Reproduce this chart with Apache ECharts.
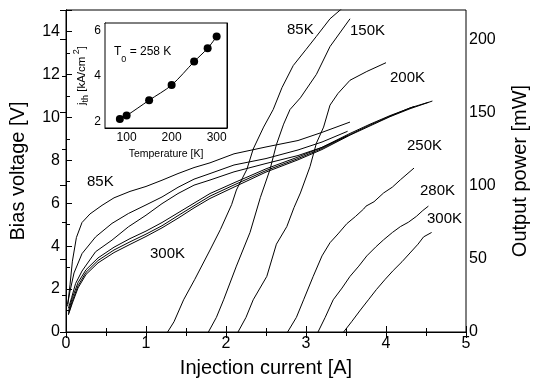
<!DOCTYPE html>
<html>
<head>
<meta charset="utf-8">
<script src="https://cdn.jsdelivr.net/npm/echarts@6/dist/echarts.min.js"></script>
<style>
  body { margin: 0; background: #fff; }
  #chart { width: 535px; height: 385px; }
</style>
</head>
<body>
<div id="chart"></div>
<script>
// Bias voltage vs injection current  [A, V]
const iv85 = [[0.02,1.2],[0.05,2.2],[0.08,3.3],[0.13,4.4],[0.2,5.1],[0.3,5.5],[0.45,5.9],[0.6,6.25],[0.8,6.55],[1.0,6.78],[1.2,7.07],[1.4,7.38],[1.6,7.66],[1.8,7.88],[2.1,8.3],[2.5,8.62],[2.9,8.92],[3.2,9.3],[3.55,9.78]]
const iv150 = [[0.02,1.3],[0.05,1.9],[0.1,2.75],[0.2,3.65],[0.37,4.43],[0.575,5.06],[0.78,5.52],[1.0,5.92],[1.2,6.29],[1.4,6.74],[1.6,7.12],[1.8,7.38],[2.1,7.78],[2.5,8.08],[2.9,8.48],[3.2,8.85],[3.52,9.35]]
const iv200 = [[0.03,1.1],[0.07,1.6],[0.12,2.26],[0.2,2.84],[0.37,3.74],[0.575,4.28],[0.78,4.9],[1.0,5.44],[1.2,5.98],[1.4,6.45],[1.6,6.84],[1.8,7.08],[2.1,7.46],[2.5,7.85],[2.9,8.22],[3.2,8.6],[3.52,9.15]]
const iv250 = [[0.03,0.95],[0.08,1.6],[0.15,2.3],[0.25,2.9],[0.4,3.45],[0.6,3.95],[0.8,4.35],[1.0,4.7],[1.2,5.1],[1.4,5.55],[1.6,6.0],[1.8,6.45],[2.1,6.95],[2.5,7.6],[2.9,8.15],[3.2,8.6],[3.55,9.25],[3.8,9.68],[4.05,10.08],[4.35,10.5]]
const iv280 = [[0.03,0.85],[0.08,1.45],[0.15,2.15],[0.25,2.78],[0.4,3.33],[0.6,3.82],[0.8,4.2],[1.0,4.56],[1.2,4.95],[1.4,5.42],[1.6,5.88],[1.8,6.33],[2.1,6.85],[2.5,7.52],[2.9,8.08],[3.2,8.55],[3.55,9.2],[3.8,9.64],[4.05,10.05],[4.3,10.44],[4.53,10.7]]
const iv300 = [[0.03,0.8],[0.08,1.35],[0.15,2.05],[0.25,2.68],[0.4,3.22],[0.6,3.7],[0.8,4.08],[1.0,4.45],[1.2,4.85],[1.4,5.3],[1.6,5.78],[1.8,6.22],[2.1,6.75],[2.5,7.45],[2.9,8.02],[3.2,8.5],[3.55,9.17],[3.8,9.6],[4.05,10.03],[4.3,10.4],[4.58,10.76]]

// Output power vs injection current  [A, mW]
const li85 = [[1.27,0],[1.35,7],[1.47,22],[1.61,36],[1.8,56],[1.93,70],[2.07,87],[2.13,97],[2.26,111],[2.34,125],[2.47,140],[2.59,152],[2.7,167],[2.84,182],[3.0,193],[3.13,202],[3.3,214],[3.47,222]]
const li150 = [[1.78,0],[1.88,10],[1.97,22],[2.13,45],[2.3,68],[2.43,92],[2.55,111],[2.63,128],[2.72,142],[2.8,152],[2.93,160],[3.13,176],[3.3,195],[3.55,214]]
const li200 = [[2.15,0],[2.25,10],[2.34,22],[2.51,38],[2.63,60],[2.76,72],[2.85,85],[2.93,95],[3.05,113],[3.13,129],[3.22,140],[3.3,155],[3.4,163],[3.55,172],[3.76,178],[4.0,184]]
const li250 = [[2.77,0],[2.88,10],[2.97,22],[3.09,38],[3.2,52],[3.3,61],[3.4,67],[3.51,74],[3.62,79],[3.72,84],[3.75,86],[3.85,89],[3.97,95],[4.08,99],[4.18,104],[4.35,112]]
const li280 = [[3.15,0],[3.24,10],[3.34,22],[3.45,30],[3.55,38],[3.66,45],[3.76,52],[3.87,58],[3.97,63],[4.08,68],[4.18,72],[4.28,75],[4.38,79],[4.46,83],[4.53,86]]
const li300 = [[3.47,0],[3.57,7],[3.68,15],[3.78,22],[3.88,29],[3.99,36],[4.09,42],[4.2,48],[4.3,54],[4.4,60],[4.47,65],[4.57,68]]

// inset: threshold current density vs temperature
const insetTemps = [85, 100, 150, 200, 250, 280, 300]
const insetJth = [2.1, 2.25, 2.93, 3.6, 4.64, 5.23, 5.75]

const chart = echarts.init(document.getElementById('chart'))

const black = '#000'
const font = 'Liberation Sans, Arial, sans-serif'

const curve = (data, yIdx) => ({
  type: 'line',
  data: data,
  xAxisIndex: 0,
  yAxisIndex: yIdx,
  showSymbol: false,
  symbol: 'none',
  lineStyle: { color: black, width: 1 },
  silent: true,
  animation: false
})

const tickIn = { show: true, inside: true, length: 6, lineStyle: { color: black } }
const minorIn = { show: true, splitNumber: 2, length: 4, lineStyle: { color: black } }
const lineBlack = { show: true, lineStyle: { color: black, width: 1 } }

const label = (text, left, top) => ({
  type: 'text', left: left, top: top,
  style: { text: text, font: '15px ' + font, fill: black }
})

const option = {
  animation: false,
  backgroundColor: '#fff',
  grid: [
    { left: 66, right: 69, top: 10, bottom: 53, show: true, borderColor: black, borderWidth: 1, outerBoundsMode: 'none', containLabel: false },
    { left: 105, right: 308, top: 23, bottom: 257, show: true, borderColor: black, borderWidth: 1, backgroundColor: '#fff', z: 5, outerBoundsMode: 'none', containLabel: false }
  ],
  xAxis: [
    {
      type: 'value', gridIndex: 0, min: 0, max: 5, interval: 1,
      name: 'Injection current [A]', nameLocation: 'middle', nameGap: 26,
      nameTextStyle: { fontSize: 20, color: black, fontFamily: font },
      axisLine: lineBlack, axisTick: tickIn, minorTick: minorIn, splitLine: { show: false },
      axisLabel: { fontSize: 16, color: black, fontFamily: font, margin: 4 }
    },
    {
      type: 'value', gridIndex: 0, position: 'top', min: 0, max: 5, interval: 1,
      axisLine: lineBlack, axisTick: tickIn, minorTick: minorIn, splitLine: { show: false },
      axisLabel: { show: false }
    },
    {
      type: 'value', gridIndex: 1, min: 52, max: 323,
      name: 'Temperature [K]', nameLocation: 'middle', nameGap: 21,
      nameTextStyle: { fontSize: 10.5, color: black, fontFamily: font },
      axisLine: lineBlack,
      axisTick: { show: true, inside: true, length: 3, lineStyle: { color: black }, customValues: [100, 150, 200, 250, 300] },
      splitLine: { show: false },
      axisLabel: { fontSize: 12, color: black, fontFamily: font, margin: 4, customValues: [100, 200, 300] }
    },
    {
      type: 'value', gridIndex: 1, position: 'top', min: 52, max: 323,
      axisLine: lineBlack,
      axisTick: { show: true, inside: true, length: 3, lineStyle: { color: black }, customValues: [100, 150, 200, 250, 300] },
      splitLine: { show: false }, axisLabel: { show: false }
    }
  ],
  yAxis: [
    {
      type: 'value', gridIndex: 0, min: 0, max: 15, interval: 2,
      name: 'Bias voltage [V]', nameLocation: 'middle', nameGap: 38,
      nameTextStyle: { fontSize: 20, color: black, fontFamily: font },
      axisLine: lineBlack, axisTick: tickIn, minorTick: minorIn, splitLine: { show: false },
      axisLabel: { fontSize: 16, color: black, fontFamily: font, margin: 6, showMaxLabel: false }
    },
    {
      type: 'value', gridIndex: 0, position: 'right', min: 0, max: 220, interval: 50,
      name: 'Output power [mW]', nameLocation: 'middle', nameGap: 44, nameRotate: 90,
      nameTextStyle: { fontSize: 20, color: black, fontFamily: font },
      axisLine: lineBlack, axisTick: tickIn, minorTick: minorIn, splitLine: { show: false },
      axisLabel: { fontSize: 16, color: black, fontFamily: font, margin: 3, showMaxLabel: false }
    },
    {
      type: 'value', gridIndex: 1, min: 1.7, max: 6.35,
      name: '{n|j}{s|th}{n| [kA/cm}{p| 2}{n|]}', nameLocation: 'middle', nameGap: 9,
      nameTextStyle: {
        color: black, fontFamily: font,
        rich: {
          n: { fontSize: 11.5, color: black, fontFamily: font, lineHeight: 18, verticalAlign: 'middle' },
          s: { fontSize: 9, color: black, fontFamily: font, lineHeight: 18, verticalAlign: 'bottom' },
          p: { fontSize: 9, color: black, fontFamily: font, lineHeight: 18, verticalAlign: 'top' }
        }
      },
      axisLine: lineBlack,
      axisTick: { show: true, inside: true, length: 3, lineStyle: { color: black }, customValues: [2, 3, 4, 5, 6] },
      splitLine: { show: false },
      axisLabel: { fontSize: 12, color: black, fontFamily: font, margin: 4, customValues: [2, 4, 6] }
    },
    {
      type: 'value', gridIndex: 1, position: 'right', min: 1.7, max: 6.35,
      axisLine: lineBlack,
      axisTick: { show: true, inside: true, length: 3, lineStyle: { color: black }, customValues: [2, 3, 4, 5, 6] },
      splitLine: { show: false }, axisLabel: { show: false }
    }
  ],
  series: [
    curve(iv85, 0), curve(iv150, 0), curve(iv200, 0),
    curve(iv250, 0), curve(iv280, 0), curve(iv300, 0),
    curve(li85, 1), curve(li150, 1), curve(li200, 1),
    curve(li250, 1), curve(li280, 1), curve(li300, 1),
    {
      type: 'line',
      xAxisIndex: 2,
      yAxisIndex: 2,
      data: insetTemps.map((t, i) => [t, insetJth[i]]),
      smooth: 0.3,
      symbol: 'circle',
      symbolSize: 8,
      itemStyle: { color: black },
      lineStyle: { color: black, width: 1 },
      z: 6
    }
  ],
  graphic: [
    label('85K', 87, 174),
    label('300K', 150, 246),
    label('85K', 287, 22),
    label('150K', 350, 23),
    label('200K', 390, 70),
    label('250K', 407, 138),
    label('280K', 420, 183),
    label('300K', 427, 211),
    {
      type: 'text', left: 114, top: 46, z: 10,
      style: {
        text: '{t|T}{s|0}{t| = 258 K}',
        rich: {
          t: { fontSize: 12, fontFamily: font, fill: black, lineHeight: 18, verticalAlign: 'top' },
          s: { fontSize: 9, fontFamily: font, fill: black, lineHeight: 18, verticalAlign: 'bottom' }
        }
      }
    }
  ]
}

chart.setOption(option)
</script>
</body>
</html>
